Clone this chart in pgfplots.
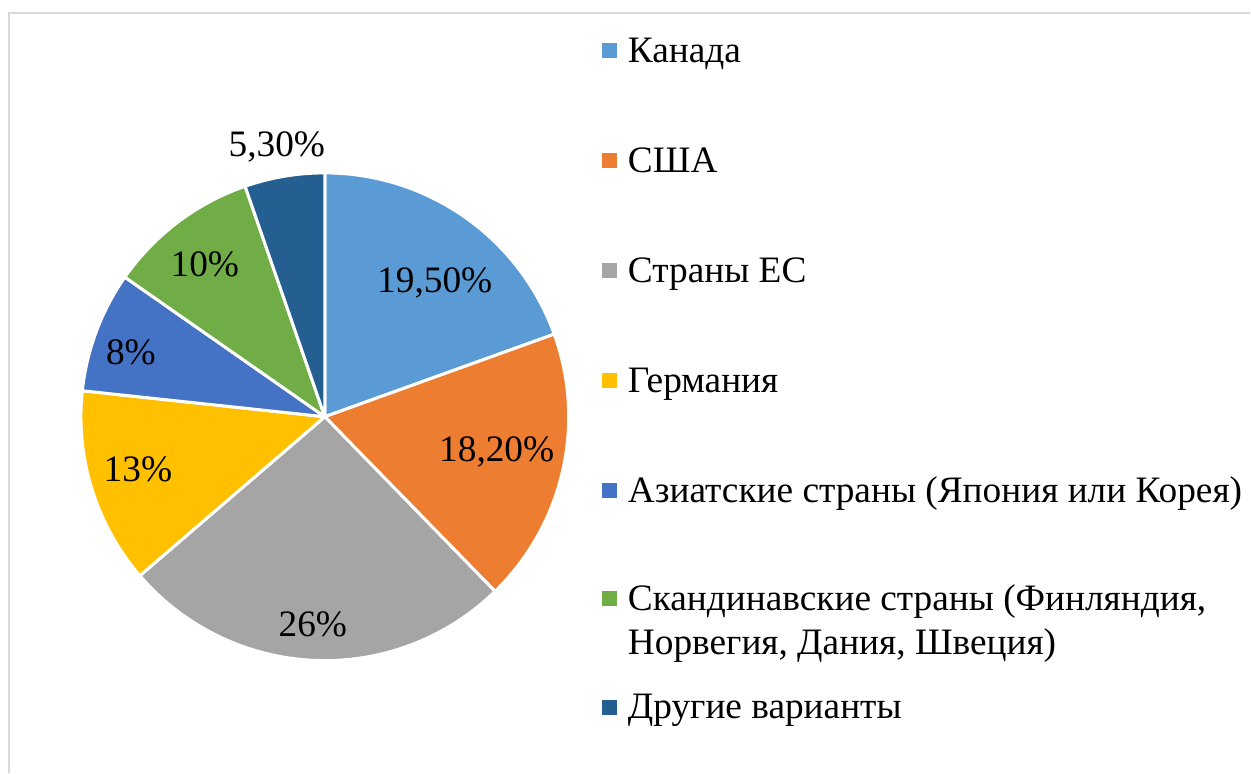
\documentclass[border=0pt]{standalone}
\usepackage{pgfplots}
\pgfplotsset{compat=1.18}
\usepackage{fontspec}
\setmainfont{Liberation Serif}
\definecolor{cCan}{HTML}{5B9BD5}
\definecolor{cUSA}{HTML}{ED7D31}
\definecolor{cEU}{HTML}{A5A5A5}
\definecolor{cGer}{HTML}{FFC000}
\definecolor{cAsia}{HTML}{4472C4}
\definecolor{cScan}{HTML}{70AD47}
\definecolor{cOth}{HTML}{255E91}
\newcommand{\fs}{\fontsize{22.4pt}{26.4pt}\selectfont}
% values (percent)
\def\vCan{19.5}\def\vUSA{18.2}\def\vEU{26}\def\vGer{13}\def\vAsia{8}\def\vScan{10}\def\vOth{5.3}
\begin{document}
\begin{tikzpicture}
\pgfmathsetmacro{\aA}{90}
\pgfmathsetmacro{\aB}{\aA-3.6*\vCan}
\pgfmathsetmacro{\aC}{\aB-3.6*\vUSA}
\pgfmathsetmacro{\aD}{\aC-3.6*\vEU}
\pgfmathsetmacro{\aE}{\aD-3.6*\vGer}
\pgfmathsetmacro{\aF}{\aE-3.6*\vAsia}
\pgfmathsetmacro{\aG}{\aF-3.6*\vScan}
\pgfmathsetmacro{\aH}{\aG-3.6*\vOth}
\begin{axis}[
  x=0.6pt, y=0.6pt, anchor=origin, at={(0,0)},
  xmin=0, xmax=1251, ymin=0, ymax=773,
  hide axis, clip=false,
]
\path (axis cs:0,0) rectangle (axis cs:1251,773);
\draw[color=black!15, line width=0.9pt] (axis cs:9,0) -- (axis cs:9,760) -- (axis cs:1251,760);
\pgfplotsset{slice/.style={fill=#1, draw=white, line width=1.8pt, line join=round, samples=90, smooth}}
\addplot[slice=cCan,  domain=\aB:\aA] ({325+244*cos(x)},{356+244*sin(x)}) -- (axis cs:325,356) -- cycle;
\addplot[slice=cUSA,  domain=\aC:\aB] ({325+244*cos(x)},{356+244*sin(x)}) -- (axis cs:325,356) -- cycle;
\addplot[slice=cEU,   domain=\aD:\aC] ({325+244*cos(x)},{356+244*sin(x)}) -- (axis cs:325,356) -- cycle;
\addplot[slice=cGer,  domain=\aE:\aD] ({325+244*cos(x)},{356+244*sin(x)}) -- (axis cs:325,356) -- cycle;
\addplot[slice=cAsia, domain=\aF:\aE] ({325+244*cos(x)},{356+244*sin(x)}) -- (axis cs:325,356) -- cycle;
\addplot[slice=cScan, domain=\aG:\aF] ({325+244*cos(x)},{356+244*sin(x)}) -- (axis cs:325,356) -- cycle;
\addplot[slice=cOth,  domain=\aH:\aG] ({325+244*cos(x)},{356+244*sin(x)}) -- (axis cs:325,356) -- cycle;
% data labels
\node[font=\fs] at (axis cs:435,490) {19,50\%};
\node[font=\fs] at (axis cs:497,321) {18,20\%};
\node[font=\fs] at (axis cs:313,148) {26\%};
\node[font=\fs] at (axis cs:138,303) {13\%};
\node[font=\fs] at (axis cs:131,420) {8\%};
\node[font=\fs] at (axis cs:205,508) {10\%};
\node[font=\fs] at (axis cs:277,626) {5,30\%};
% legend markers
\pgfplotsset{lmark/.style={only marks, mark=square*, mark size=4.2pt, color=#1}}
\addplot[lmark=cCan]  coordinates {(610,722.5)};
\addplot[lmark=cUSA]  coordinates {(610,612.5)};
\addplot[lmark=cEU]   coordinates {(610,502.5)};
\addplot[lmark=cGer]  coordinates {(610,392.5)};
\addplot[lmark=cAsia] coordinates {(610,282.5)};
\addplot[lmark=cScan] coordinates {(610,174.5)};
\addplot[lmark=cOth]  coordinates {(610,65.5)};
\node[font=\fs, anchor=base west, inner sep=0pt] at (axis cs:628,710) {Канада};
\node[font=\fs, anchor=base west, inner sep=0pt] at (axis cs:628,600) {США};
\node[font=\fs, anchor=base west, inner sep=0pt] at (axis cs:628,490) {Страны ЕС};
\node[font=\fs, anchor=base west, inner sep=0pt] at (axis cs:628,380) {Германия};
\node[font=\fs, anchor=base west, inner sep=0pt] at (axis cs:628,270) {Азиатские страны (Япония или Корея)};
\node[font=\fs, anchor=base west, inner sep=0pt] at (axis cs:628,162) {Скандинавские страны (Финляндия,};
\node[font=\fs, anchor=base west, inner sep=0pt] at (axis cs:628,118) {Норвегия, Дания, Швеция)};
\node[font=\fs, anchor=base west, inner sep=0pt] at (axis cs:628,54) {Другие варианты};
\end{axis}
\end{tikzpicture}
\end{document}
